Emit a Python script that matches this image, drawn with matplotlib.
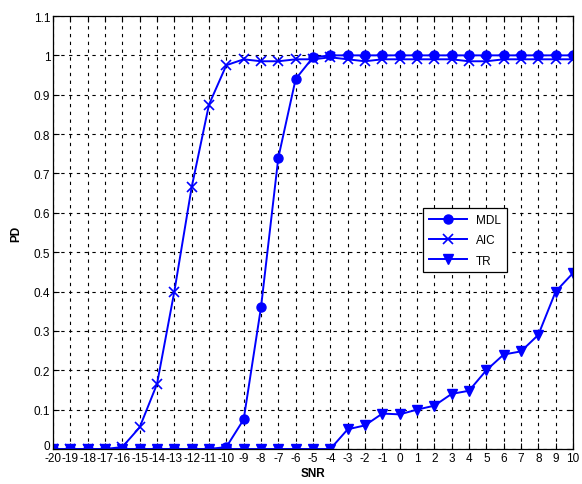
import matplotlib
matplotlib.use("Agg")
import matplotlib.pyplot as plt
import matplotlib.transforms as mtransforms
import numpy as np

snr = list(range(-20, 11))
mdl = [0]*10 + [0.005, 0.075, 0.36, 0.74, 0.94, 0.995] + [1.0]*15
aic = [0, 0, 0, 0, 0.005, 0.055, 0.165, 0.40, 0.665, 0.875, 0.975, 0.99, 0.985, 0.985,
       0.99, 0.99, 0.995, 0.99, 0.985, 0.99, 0.99, 0.99, 0.99, 0.99, 0.985, 0.985, 0.99,
       0.99, 0.99, 0.99, 0.99]
tr = [0]*17 + [0.05, 0.06, 0.09, 0.088, 0.10, 0.11, 0.14, 0.148, 0.20, 0.24, 0.248,
               0.29, 0.40, 0.447]
yticks = [round(0.1*i, 1) for i in range(12)]
ytick_labels = ["0", "0.1", "0.2", "0.3", "0.4", "0.5", "0.6", "0.7", "0.8", "0.9", "1", "1.1"]

plt.rcParams['font.family'] = ['Liberation Sans', 'DejaVu Sans']
fig = plt.figure(figsize=(5.82, 4.85), dpi=100)
ax = fig.add_axes([53/582, 35/485, 520/582, 433/485])

ax.plot(snr, mdl, color='blue', marker='o', markersize=6.5, lw=1.4, label='MDL')
ax.plot(snr, aic, color='blue', marker='x', markersize=6.5, mew=1.2, lw=1.4, label='AIC')
ax.plot(snr, tr, color='blue', marker='v', markersize=7.5, lw=1.4, label='TR')

ax.set_xlim(-20, 10)
ax.set_ylim(0, 1.1)
ax.set_xticks(snr)
ax.set_xticklabels([str(s) for s in snr], fontsize=8.5)
ax.set_yticks(yticks)
ax.set_yticklabels(ytick_labels, fontsize=8.5)
ax.tick_params(direction='in', length=4, pad=2)
ax.tick_params(top=True, right=True, labeltop=False, labelright=False)
ax.grid(True, color='black', linestyle=(0, (3, 4)), linewidth=0.8)
for s in ax.spines.values():
    s.set_linewidth(0.9)
ax.set_xlabel('SNR', fontsize=8.5, fontweight='bold', labelpad=2)
ax.set_ylabel('PD', fontsize=8.5, fontweight='bold', labelpad=8)

# nudge the "0" y label up slightly so it does not collide with "-20"
lbl0 = ax.get_yticklabels()[0]
lbl0.set_transform(lbl0.get_transform() +
                   mtransforms.ScaledTranslation(0, 3/72, fig.dpi_scale_trans))

leg = ax.legend(loc='upper left', bbox_to_anchor=(0.70, 0.57), fontsize=8.5,
                fancybox=False, edgecolor='black', framealpha=1, handlelength=3.2,
                borderpad=0.5, labelspacing=0.7)
leg.get_frame().set_linewidth(0.9)

fig.savefig('out.png', dpi=100)
